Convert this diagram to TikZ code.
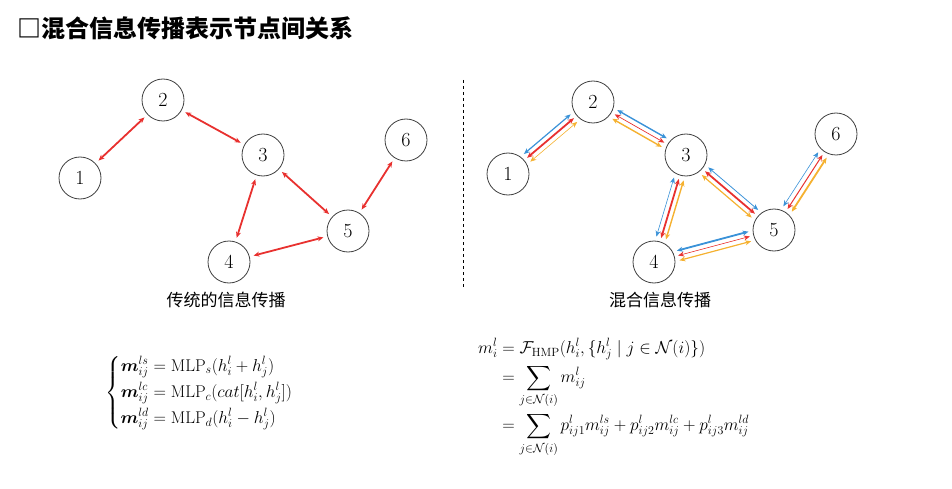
\documentclass[tikz,border=0pt]{standalone}
\usepackage{amsmath}
\usepackage{fontspec}
\newfontfamily\cjk{Noto Sans CJK SC}
\usetikzlibrary{calc,arrows.meta}
\definecolor{eorange}{HTML}{F5B130}
\definecolor{ered}{HTML}{E8312F}
\definecolor{eblue}{HTML}{3A92D8}
\tikzset{
  gnode/.style={circle,draw=black!75,line width=0.8pt,fill=white,minimum size=42pt,inner sep=0pt,font=\fontsize{20}{20}\selectfont},
  biarrow/.style={{Stealth[length=6pt,width=5pt]}-{Stealth[length=6pt,width=5pt]}},
  redarrow/.style={biarrow,ered,line width=1.8pt},
  captext/.style={font=\cjk\fontsize{17}{17}\selectfont},
  eq/.style={font=\fontsize{17}{20}\selectfont,inner sep=0pt}
}
\newcommand\trip[5]{%
  \draw[biarrow,eorange,line width=#3] ($(#1)!25pt!(#2)!-5pt!90:(#2)$) -- ($(#2)!25pt!(#1)!-5pt!-90:(#1)$);
  \draw[biarrow,ered,line width=#4] ($(#1)!25pt!(#2)$) -- ($(#2)!25pt!(#1)$);
  \draw[biarrow,eblue,line width=#5] ($(#1)!25pt!(#2)!5pt!90:(#2)$) -- ($(#2)!25pt!(#1)!5pt!-90:(#1)$);}
\begin{document}
\begin{tikzpicture}[x=1pt,y=-1pt]
\useasboundingbox (0,0) rectangle (952,489);
\node[anchor=west,font=\cjk\bfseries\fontsize{24}{24}\selectfont] (title) at (14,28) {□混合信息传播表示节点间关系};
% left graph
\node[gnode] (a1) at (80,178) {1};
\node[gnode] (a2) at (163,100) {2};
\node[gnode] (a3) at (263,155) {3};
\node[gnode] (a4) at (229,262) {4};
\node[gnode] (a5) at (348,231) {5};
\node[gnode] (a6) at (406,140) {6};
\foreach \u/\v in {a1/a2,a2/a3,a3/a5,a5/a6,a3/a4,a4/a5}
  \draw[redarrow,shorten <=4pt,shorten >=4pt] (\u) -- (\v);
\node[captext] (lc) at (226,300) {传统的信息传播};
% divider
\coordinate (dtop) at (463,80);
\coordinate (dbot) at (463,287);
\draw[dashed,line width=0.8pt] (dtop) -- (dbot);
% right graph
\node[gnode] (b1) at (508,174) {1};
\node[gnode] (b2) at (593,102) {2};
\node[gnode] (b3) at (686,155) {3};
\node[gnode] (b4) at (654,262) {4};
\node[gnode] (b5) at (774,230) {5};
\node[gnode] (b6) at (836,134) {6};
\trip{b1}{b2}{0.6pt}{1.8pt}{1.2pt}
\trip{b2}{b3}{1.4pt}{0.7pt}{1.4pt}
\trip{b3}{b5}{1.2pt}{1.8pt}{0.8pt}
\trip{b5}{b6}{1.8pt}{1pt}{0.6pt}
\trip{b4}{b3}{1.4pt}{1.8pt}{0.6pt}
\trip{b4}{b5}{1.2pt}{0.6pt}{1.8pt}
\node[captext] (rc) at (660,300) {混合信息传播};
% equations
\node[eq,anchor=west] (leq) at (105,393) {$\left\{\begin{aligned}
 \boldsymbol{m}_{ij}^{ls} &= \mathrm{MLP}_s(h_i^l+h_j^l)\\
 \boldsymbol{m}_{ij}^{lc} &= \mathrm{MLP}_c(cat[h_i^l,h_j^l])\\
 \boldsymbol{m}_{ij}^{ld} &= \mathrm{MLP}_d(h_i^l-h_j^l)
\end{aligned}\right.$};
\node[eq,anchor=north west] (req) at (478,338) {$\begin{aligned}
 m_i^l &= \mathcal{F}_{\mathrm{HMP}}(h_i^l,\{h_j^l\mid j\in\mathcal{N}(i)\})\\
 &= \sum_{j\in\mathcal{N}(i)} m_{ij}^l\\
 &= \sum_{j\in\mathcal{N}(i)} p_{ij1}^l m_{ij}^{ls}+p_{ij2}^l m_{ij}^{lc}+p_{ij3}^l m_{ij}^{ld}
\end{aligned}$};
\end{tikzpicture}
\end{document}
